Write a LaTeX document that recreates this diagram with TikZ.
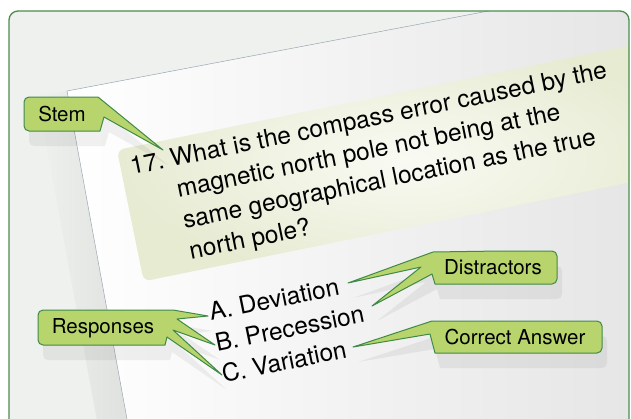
\documentclass[tikz,border=0pt]{standalone}
\usepackage{fontspec}
\setmainfont{TeX Gyre Heros}
\usetikzlibrary{shadows}

\definecolor{framegreen}{HTML}{4B8C4E}
\definecolor{framefill}{HTML}{EFF1EF}
\definecolor{calloutfill}{HTML}{B8D46C}
\definecolor{calloutline}{HTML}{3F8A48}
\definecolor{bandouter}{HTML}{E7EBD2}
\definecolor{bandinner}{HTML}{F9FAF3}
\definecolor{sheetedge}{HTML}{9AA6B0}

\begin{document}
\begin{tikzpicture}[x=1pt, y=-1pt,
    callout/.style={fill=calloutfill, draw=calloutline, line width=1pt, line join=round,
      drop shadow={shadow xshift=5pt, shadow yshift=-15pt, fill=black, opacity=0.055}},
    calloutlabel/.style={inner sep=0pt, text height=14.8pt, text depth=0pt,
      font=\fontsize{20.5}{24}\selectfont},
    qtext/.style={inner sep=0pt, anchor=base west, rotate=11.5,
      font=\fontsize{24.5}{31.5}\selectfont}]
    \useasboundingbox (0,0) rectangle (631,418);

    % Frame
    \fill[framefill, rounded corners=9] (9,11) rectangle (629,440);
    \begin{scope}
        \clip[rounded corners=9] (9,11) rectangle (629,440);

        % Shadow along the left edge of the sheet
        \begin{scope}[shift={(67,91)}, rotate=10.4]
            \shade[left color=framefill, right color=black!7!framefill]
                (-30,0) rectangle (0,360);
        \end{scope}

        % Sheet of paper
        \shade[left color=white, right color=black!10]
            (67,91) -- (499,9) -- (640,0) -- (640,430) -- (129,430) -- cycle;
        \draw[sheetedge, line width=0.5pt] (129,430) -- (67,91) -- (499,9);

        % Highlighted stem
        \begin{scope}[shift={(117,150)}, rotate=11.5]
            \shade[inner color=bandinner, outer color=bandouter, rounded corners=7]
                (0,0) rectangle (560,134);
        \end{scope}

        % Question and responses
        \node[qtext] (question) at (132,175) {\begin{tabular}[t]{@{}l@{\ }l@{}}
            17. & What is the compass error caused by the\\
                & magnetic north pole not being at the\\
                & same geographical location as the true\\
                & north pole?
        \end{tabular}};
        \node[qtext] (answers) at (211,321) {\begin{tabular}[t]{@{}l@{}}
            A. Deviation\\
            B. Precession\\
            C. Variation
        \end{tabular}};

        % Tips of the callouts
        \coordinate (stemtip) at (163,150);
        \coordinate (resptipA) at (208,316);
        \coordinate (resptipB) at (215,345);
        \coordinate (resptipC) at (222,375);
        \coordinate (disttipA) at (348,283);
        \coordinate (disttipB) at (372,306);
        \coordinate (corrtip) at (353,347);

        % Callouts
        \draw[callout] (60,97) -- (98,97) -- (stemtip) -- (104,117) -- (100,131)
            [rounded corners=5] -- (24,131) -- (24,97) -- cycle;
        \node[calloutlabel] (stem) at (62,114) {Stem};

        \draw[callout] (100,310) -- (173,310) -- (resptipA) -- (177,319) -- (resptipB)
            -- (173,330) -- (resptipC) -- (167,337) -- (165,345)
            [rounded corners=5] -- (38,345) -- (38,310) -- cycle;
        \node[calloutlabel] (responses) at (103,326.5) {Responses};

        \draw[callout] (500,251) -- (433,252) -- (disttipA) -- (421,267) -- (disttipB)
            -- (432,274) -- (435,284) [rounded corners=5] -- (557,284) -- (557,251) -- cycle;
        \node[calloutlabel] (distractors) at (493,267.5) {Distractors};

        \draw[callout] (510,321) -- (432,321) -- (corrtip) -- (430,334) -- (435,353)
            [rounded corners=5] -- (602,353) -- (602,321) -- cycle;
        \node[calloutlabel] (correct) at (515,337) {Correct Answer};
    \end{scope}
    \draw[framegreen, line width=1.3pt, rounded corners=9] (9,11) rectangle (629,440);
\end{tikzpicture}
\end{document}
